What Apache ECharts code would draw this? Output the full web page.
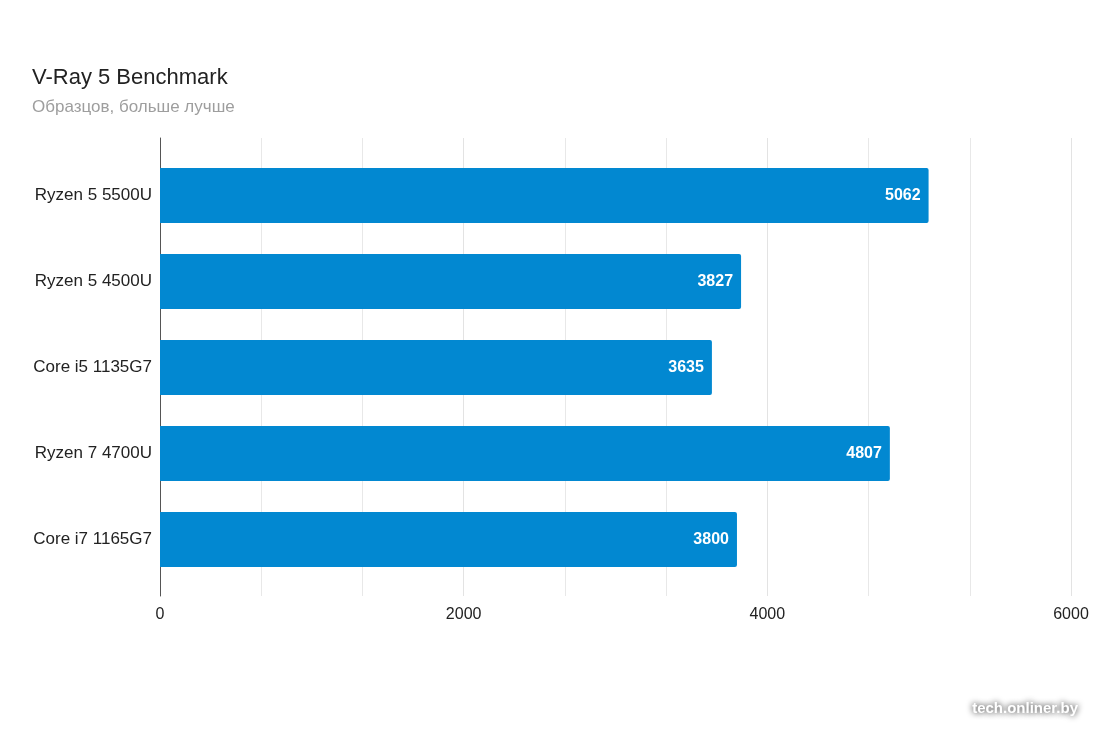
<!DOCTYPE html>
<html>
<head>
<meta charset="utf-8">
<style>html,body{margin:0;padding:0;background:#fff}#c{width:1100px;height:733px}</style>
<script src="https://cdn.jsdelivr.net/npm/echarts@6/dist/echarts.min.js"></script>
</head>
<body>
<div id="c"></div>
<script>
const categories = ["Ryzen 5 5500U", "Ryzen 5 4500U", "Core i5 1135G7", "Ryzen 7 4700U", "Core i7 1165G7"];
const values = [5062, 3827, 3635, 4807, 3800];
const titleText = "V-Ray 5 Benchmark";
const subtitleText = "Образцов, больше лучше";

const chart = echarts.init(document.getElementById('c'));
const font = '"Liberation Sans", Arial, sans-serif';
chart.setOption({
  backgroundColor: '#fff',
  animation: false,
  title: {
    text: titleText, subtext: subtitleText, left: 27, top: 62,
    textStyle: {fontFamily: font, fontSize: 22, fontWeight: 'normal', color: '#222'},
    subtextStyle: {fontFamily: font, fontSize: 17, color: '#9e9e9e'},
    itemGap: 10
  },
  grid: [
    {left: 160, right: 29, top: 152.5, height: 430},
    {left: 160, right: 29, top: 138, height: 458}
  ],
  xAxis: [
    {gridIndex: 0, type: 'value', min: 0, max: 6000, show: false},
    {gridIndex: 1, type: 'value', min: 0, max: 6000, interval: 2000,
     axisLine: {show: false}, axisTick: {show: false},
     axisLabel: {fontFamily: font, fontSize: 16, color: '#222', margin: 11, formatter: v => String(v)},
     splitLine: {show: true, lineStyle: {color: '#e3e3e3', width: 1}},
     minorTick: {show: false, splitNumber: 3},
     minorSplitLine: {show: true, lineStyle: {color: '#e8e8e8', width: 1}}}
  ],
  yAxis: [
    {gridIndex: 0, type: 'category', data: categories, inverse: true,
     axisLine: {show: false}, axisTick: {show: false},
     axisLabel: {fontFamily: font, fontSize: 17, color: '#222', margin: 8}},
    {gridIndex: 1, type: 'value', min: 0, max: 1,
     axisLine: {show: true, lineStyle: {color: '#555', width: 1}},
     axisTick: {show: false}, axisLabel: {show: false}, splitLine: {show: false}}
  ],
  series: [{
    type: 'bar', xAxisIndex: 0, yAxisIndex: 0, data: values, barWidth: 55,
    itemStyle: {color: '#0288d1', borderRadius: [0, 2, 2, 0]},
    label: {show: true, position: 'insideRight', distance: 8, color: '#fff',
            fontFamily: font, fontSize: 16, fontWeight: 'bold'},
    z: 3
  }],
  graphic: [{
    type: 'text', right: 22, top: 701,
    style: {text: 'tech.onliner.by', fill: '#fff', font: 'bold 15px "Liberation Sans", Arial, sans-serif',
            textShadowColor: 'rgba(0,0,0,0.95)', textShadowBlur: 6, textShadowOffsetX: 0, textShadowOffsetY: 0}
  }]
});
</script>
</body>
</html>
